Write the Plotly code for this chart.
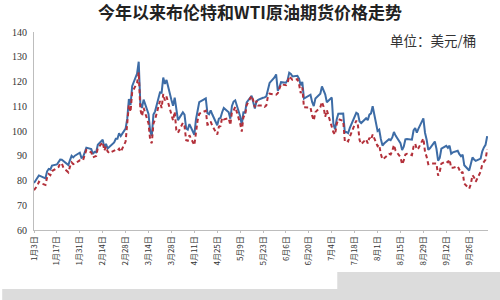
import plotly.graph_objects as go

# ---- data (2022 daily settlements, USD/bbl) ----
dates = (
    ["2022-01-%02d" % d for d in [3,4,5,6,7,10,11,12,13,14,17,18,19,20,21,24,25,26,27,28,31]] +
    ["2022-02-%02d" % d for d in [1,2,3,4,7,8,9,10,11,14,15,16,17,18,21,22,23,24,25,28]] +
    ["2022-03-%02d" % d for d in [1,2,3,4,7,8,9,10,11,14,15,16,17,18,21,22,23,24,25,28,29,30,31]] +
    ["2022-04-%02d" % d for d in [1,4,5,6,7,8,11,12,13,14,18,19,20,21,22,25,26,27,28,29]] +
    ["2022-05-%02d" % d for d in [2,3,4,5,6,9,10,11,12,13,16,17,18,19,20,23,24,25,26,27,30,31]] +
    ["2022-06-%02d" % d for d in [1,2,3,6,7,8,9,10,13,14,15,16,17,20,21,22,23,24,27,28,29,30]] +
    ["2022-07-%02d" % d for d in [1,4,5,6,7,8,11,12,13,14,15,18,19,20,21,22,25,26,27,28,29]] +
    ["2022-08-%02d" % d for d in [1,2,3,4,5,8,9,10,11,12,15,16,17,18,19,22,23,24,25,26,29,30,31]] +
    ["2022-09-%02d" % d for d in [1,2,5,6,7,8,9,12,13,14,15,16,19,20,21,22,23,26,27,28,29,30]] +
    ["2022-10-%02d" % d for d in [3,4,5,6,7]]
)

brent = [
    78.98, 80.00, 80.80, 81.99, 81.75, 80.87, 83.72, 84.67, 84.47, 86.06, 86.48, 87.51, 88.44, 88.38, 87.89, 86.27, 88.20, 89.96, 89.34, 90.03, 91.21,
    89.16, 89.47, 91.11, 93.27, 92.69, 90.78, 91.55, 91.41, 94.44, 96.48, 93.28, 94.81, 92.97, 93.54, 95.39, 96.84, 96.84, 99.08, 97.93, 100.99,
    104.97, 112.93, 110.46, 118.11, 123.21, 127.98, 111.14, 109.33, 112.67, 106.90, 99.91, 98.02, 106.64, 107.93, 115.62, 115.48, 121.60, 119.03, 120.65, 112.48, 110.23, 113.45, 107.91,
    104.39, 107.53, 106.64, 101.07, 100.58, 102.78, 98.48, 104.64, 108.78, 111.70, 113.16, 107.25, 106.80, 108.33, 106.65, 102.32, 104.99, 105.32, 107.59, 109.34,
    107.58, 104.97, 110.14, 111.90, 112.39, 105.94, 102.46, 107.51, 107.45, 111.55, 114.24, 111.93, 109.11, 112.04, 112.55, 113.42, 113.56, 114.03, 117.40, 119.43, 121.67, 122.84,
    116.29, 117.61, 119.72, 119.51, 120.57, 123.58, 123.07, 122.01, 122.27, 121.17, 118.51, 119.81, 113.12, 114.13, 114.65, 111.74, 110.05, 113.12, 115.09, 117.98, 116.26, 114.81,
    111.63, 113.50, 102.77, 100.69, 104.65, 107.02, 107.10, 99.49, 99.57, 99.10, 101.16, 106.27, 107.35, 106.92, 103.86, 103.20, 105.15, 104.40, 106.62, 107.14, 110.01,
    100.03, 100.54, 96.78, 94.12, 94.92, 96.65, 96.31, 97.40, 99.60, 98.15, 95.10, 92.34, 93.65, 96.59, 96.72, 96.48, 100.22, 101.22, 99.34, 100.99, 105.09, 99.31, 96.49,
    92.36, 93.02, 95.74, 92.83, 88.00, 89.15, 92.84, 94.00, 93.17, 94.10, 90.84, 91.35, 92.00, 90.62, 89.83, 90.46, 86.15, 84.06, 86.27, 89.32, 88.49, 87.96,
    88.86, 91.80, 93.37, 94.42, 97.92,
]

wti = [
    76.08, 76.99, 77.85, 79.46, 78.90, 78.23, 81.22, 82.64, 82.12, 83.82, None, 85.43, 86.96, 86.90, 85.14, 83.31, 85.60, 87.35, 86.61, 86.82, 88.15,
    88.20, 88.26, 90.27, 92.31, 91.32, 89.36, 89.66, 89.88, 93.10, 95.46, 92.07, 93.66, 91.76, 91.07, None, 92.35, 92.10, 92.81, 91.59, 95.72,
    103.41, 110.60, 107.67, 115.68, 119.40, 123.70, 108.70, 106.02, 109.33, 103.01, 96.44, 95.04, 102.98, 104.70, 112.12, 109.27, 114.93, 112.34, 113.90, 105.96, 104.24, 107.82, 100.28,
    99.27, 103.28, 102.00, 96.23, 96.03, 98.26, 94.29, 100.60, 104.25, 106.95, 108.21, 102.56, 102.75, 103.79, 102.07, 98.54, 101.70, 102.02, 105.36, 104.69,
    105.17, 102.41, 107.81, 108.26, 109.77, 103.09, 99.76, 105.71, 106.13, 110.49, 114.20, 112.40, 109.59, 112.21, 110.28, 110.29, 109.77, 110.33, 114.09, 115.07, None, 114.67,
    115.26, 116.87, 118.87, 118.50, 119.41, 122.11, 121.51, 120.67, 120.93, 118.93, 115.31, 117.59, 109.56, None, 109.52, 106.19, 104.27, 107.62, 109.57, 111.76, 109.78, 105.76,
    108.43, None, 99.50, 98.53, 102.73, 104.79, 104.09, 95.84, 96.30, 95.78, 97.59, 102.60, 104.22, 102.26, 96.35, 94.70, 96.70, 94.98, 97.26, 96.42, 98.62,
    93.89, 94.42, 90.66, 88.54, 89.01, 90.76, 90.50, 91.93, 94.34, 92.09, 89.41, 86.53, 88.11, 90.50, 90.77, 90.23, 93.74, 94.89, 92.52, 93.06, 97.01, 91.64, 89.55,
    86.61, 86.87, None, 86.88, 81.94, 83.54, 86.79, 87.78, 87.31, 88.48, 85.10, 85.11, 85.73, 84.45, 82.94, 83.49, 78.74, 76.71, 78.50, 82.15, 81.23, 79.49,
    83.63, 86.52, 87.76, 88.45, 92.64,
]

tick_dates = ["2022-01-03", "2022-01-17", "2022-01-31", "2022-02-14", "2022-02-28",
              "2022-03-14", "2022-03-28", "2022-04-11", "2022-04-25", "2022-05-09",
              "2022-05-23", "2022-06-06", "2022-06-20", "2022-07-04", "2022-07-18",
              "2022-08-01", "2022-08-15", "2022-08-29", "2022-09-12", "2022-09-26"]
tick_labels = ["1月3日", "1月17日", "1月31日", "2月14日", "2月28日",
               "3月14日", "3月28日", "4月11日", "4月25日", "5月9日",
               "5月23日", "6月6日", "6月20日", "7月4日", "7月18日",
               "8月1日", "8月15日", "8月29日", "9月12日", "9月26日"]

title_text = "今年以来布伦特和WTI原油期货价格走势"
unit_text = "单位：美元/桶"

fig = go.Figure()
fig.add_trace(go.Scatter(x=dates, y=brent, mode="lines", name="布伦特",
                         connectgaps=True,
                         line=dict(color="#3d6ca6", width=2)))
fig.add_trace(go.Scatter(x=dates, y=wti, mode="lines", name="WTI",
                         connectgaps=True,
                         line=dict(color="#b3303a", width=2, dash="4px,3px")))

fig.update_layout(
    width=500, height=300,
    margin=dict(l=30, r=12, t=32, b=70),
    paper_bgcolor="white", plot_bgcolor="white",
    showlegend=False,
    title=dict(text="<b>" + title_text + "</b>", x=0.5, xanchor="center",
               y=0.955, yanchor="middle",
               font=dict(family="Noto Sans CJK SC", size=17, color="#222222")),
    xaxis=dict(type="date", range=["2022-01-03", "2022-10-07 12:00"],
               tickvals=tick_dates, ticktext=tick_labels, tickangle=-90,
               showgrid=False, zeroline=False,
               showline=True, linecolor="#bdbdbd", linewidth=1,
               ticks="outside", ticklen=2, tickcolor="#bdbdbd",
               tickfont=dict(family="Noto Sans CJK SC", size=8, color="#333333")),
    yaxis=dict(range=[60, 140], dtick=10, showgrid=False, zeroline=False,
               showline=True, linecolor="#bdbdbd", linewidth=1,
               ticks="", ticklabelstandoff=4,
               tickfont=dict(family="Liberation Serif", size=10, color="#333333")),
)

fig.add_annotation(text=unit_text, xref="paper", yref="paper",
                   x=0.978, y=0.96, xanchor="right", yanchor="middle",
                   showarrow=False,
                   font=dict(family="Noto Sans CJK SC", size=13.5, color="#333333"))

# grey dotted scan band at the bottom of the image
for x0, x1, y0, y1 in [(0.668, 1.03, -0.212, -0.36), (-0.07, 1.03, -0.298, -0.36)]:
    fig.add_shape(type="rect", xref="paper", yref="paper", x0=x0, x1=x1, y0=y0, y1=y1,
                  fillcolor="#dcdcdc", line=dict(width=0), layer="above")

fig.write_html("out.html")
